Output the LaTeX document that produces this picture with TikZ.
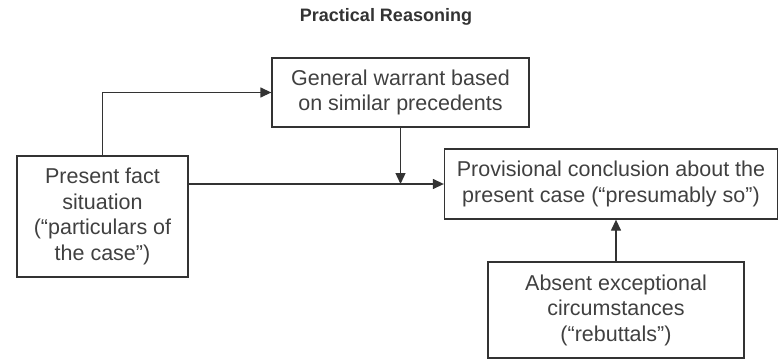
\documentclass[tikz,border=0pt]{standalone}
\usepackage{fontspec}
\setmainfont{Liberation Sans}
\usetikzlibrary{arrows.meta}
\tikzset{
  box/.style={draw=black!80, line width=1.3pt, inner sep=0pt, align=center,
    text=black!75, font=\fontsize{21.5}{25.5}\selectfont},
  arr/.style={draw=black!80, line width=1.3pt, -{Triangle[length=11pt,width=10pt]}},
}
\begin{document}
\begin{tikzpicture}[x=1pt,y=-1pt]
\useasboundingbox (0,0) rectangle (780,362);
\node[text=black!80, font=\fontsize{18}{20}\selectfont\bfseries] (title) at (386,17) {Practical Reasoning};
\node[box, minimum width=257pt, minimum height=69pt] (warrant) at (400.5,92.5)
  {General warrant based\\on similar precedents};
\node[box, minimum width=171pt, minimum height=121pt] (fact) at (102.5,216.5)
  {Present fact\\situation\\(“particulars of\\the case”)};
\node[box, minimum width=333pt, minimum height=70pt] (prov) at (611,184)
  {Provisional conclusion about the\\present case (“presumably so”)};
\node[box, minimum width=256pt, minimum height=96pt] (absent) at (616,310)
  {Absent exceptional\\circumstances\\(“rebuttals”)};
\draw[arr] (fact.north) |- (warrant.west);
\draw[arr] (fact.east |- prov.west) -- (prov.west);
\draw[arr] (warrant.south) -- (warrant.south |- prov.west);
\draw[arr] (absent.north) -- (absent.north |- prov.south);
\end{tikzpicture}
\end{document}
